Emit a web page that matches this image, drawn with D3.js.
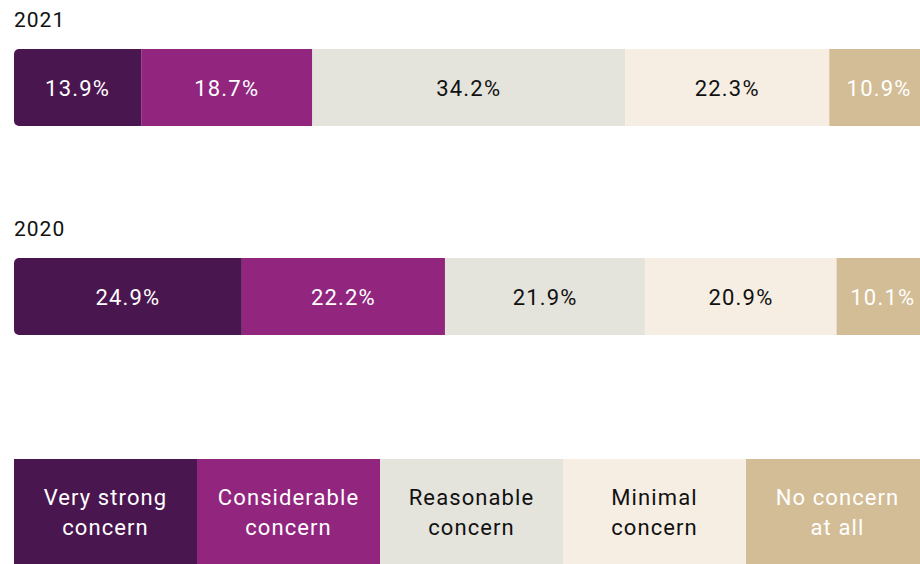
<!DOCTYPE html>
<html>
<head>
<meta charset="utf-8">
<script src="https://cdn.jsdelivr.net/npm/d3@7"></script>
<style>
  body { margin: 0; background: #fff; }
  svg { display: block; font-family: Roboto, "DejaVu Sans", sans-serif; }
</style>
</head>
<body>
<svg id="chart" width="920" height="564"></svg>
<script>
var years = ["2021", "2020"];
var categories = ["Very strong concern", "Considerable concern", "Reasonable concern", "Minimal concern", "No concern at all"];
var legendLines = [["Very strong", "concern"], ["Considerable", "concern"], ["Reasonable", "concern"], ["Minimal", "concern"], ["No concern", "at all"]];
var values2021 = [13.9, 18.7, 34.2, 22.3, 10.9];
var values2020 = [24.9, 22.2, 21.9, 20.9, 10.1];

var colors = ["#4a1650", "#92267f", "#e4e3dc", "#f6eee3", "#d3bd96"];
var textColors = ["#fff", "#fff", "#111", "#111", "#fff"];

var svg = d3.select("#chart");

var xScale = d3.scaleLinear()
    .domain([0, 100])
    .range([14, 929]);

var yScale = d3.scaleBand()
    .domain(years)
    .range([49, 335])
    .paddingInner(132 / 209);

var colorScale = d3.scaleOrdinal()
    .domain(categories)
    .range(colors);

var textScale = d3.scaleOrdinal()
    .domain(categories)
    .range(textColors);

var seriesByYear = { "2021": values2021, "2020": values2020 };

years.forEach(function(year) {
    var vals = seriesByYear[year];
    var cum = 0;
    var segs = vals.map(function(v, i) {
        var s = { cat: categories[i], start: cum, end: cum + v, v: v };
        cum += v;
        return s;
    });

    var y0 = yScale(year);
    var h = yScale.bandwidth();

    svg.append("text")
        .attr("x", xScale(0))
        .attr("y", y0 - 22)
        .attr("font-size", 21)
        .attr("letter-spacing", 1)
        .attr("fill", "#111")
        .text(year);

    var clipId = "clip" + year;
    svg.append("clipPath").attr("id", clipId)
      .append("rect")
        .attr("x", xScale(0))
        .attr("y", y0)
        .attr("width", xScale(100) - xScale(0) + 10)
        .attr("height", h)
        .attr("rx", 5);

    var g = svg.append("g").attr("clip-path", "url(#" + clipId + ")");

    g.selectAll("rect")
        .data(segs)
        .enter().append("rect")
        .attr("x", function(d) { return xScale(d.start); })
        .attr("y", y0)
        .attr("width", function(d) { return xScale(d.end) - xScale(d.start); })
        .attr("height", h)
        .attr("fill", function(d) { return colorScale(d.cat); });

    svg.selectAll("text.val" + year)
        .data(segs)
        .enter().append("text")
        .attr("class", "val" + year)
        .attr("x", function(d) { return (xScale(d.start) + xScale(d.end)) / 2; })
        .attr("y", y0 + h / 2 + 8)
        .attr("text-anchor", "middle")
        .attr("font-size", 22)
        .attr("letter-spacing", 1.2)
        .attr("fill", function(d) { return textScale(d.cat); })
        .text(function(d) { return d.v.toFixed(1) + "%"; });
});

// legend
var legendScale = d3.scaleBand()
    .domain(categories)
    .range([14, 929]);

var legend = svg.selectAll("g.legend")
    .data(categories)
    .enter().append("g")
    .attr("class", "legend")
    .attr("transform", function(d) { return "translate(" + legendScale(d) + ",459)"; });

legend.append("rect")
    .attr("width", legendScale.bandwidth() + 0.5)
    .attr("height", 105)
    .attr("fill", function(d) { return colorScale(d); });

legend.each(function(d, i) {
    var t = d3.select(this).append("text")
        .attr("text-anchor", "middle")
        .attr("font-size", 22)
        .attr("letter-spacing", 1.1)
        .attr("fill", textScale(d));
    legendLines[i].forEach(function(line, j) {
        t.append("tspan")
            .attr("x", legendScale.bandwidth() / 2)
            .attr("y", 46 + j * 30)
            .text(line);
    });
});
</script>
</body>
</html>
